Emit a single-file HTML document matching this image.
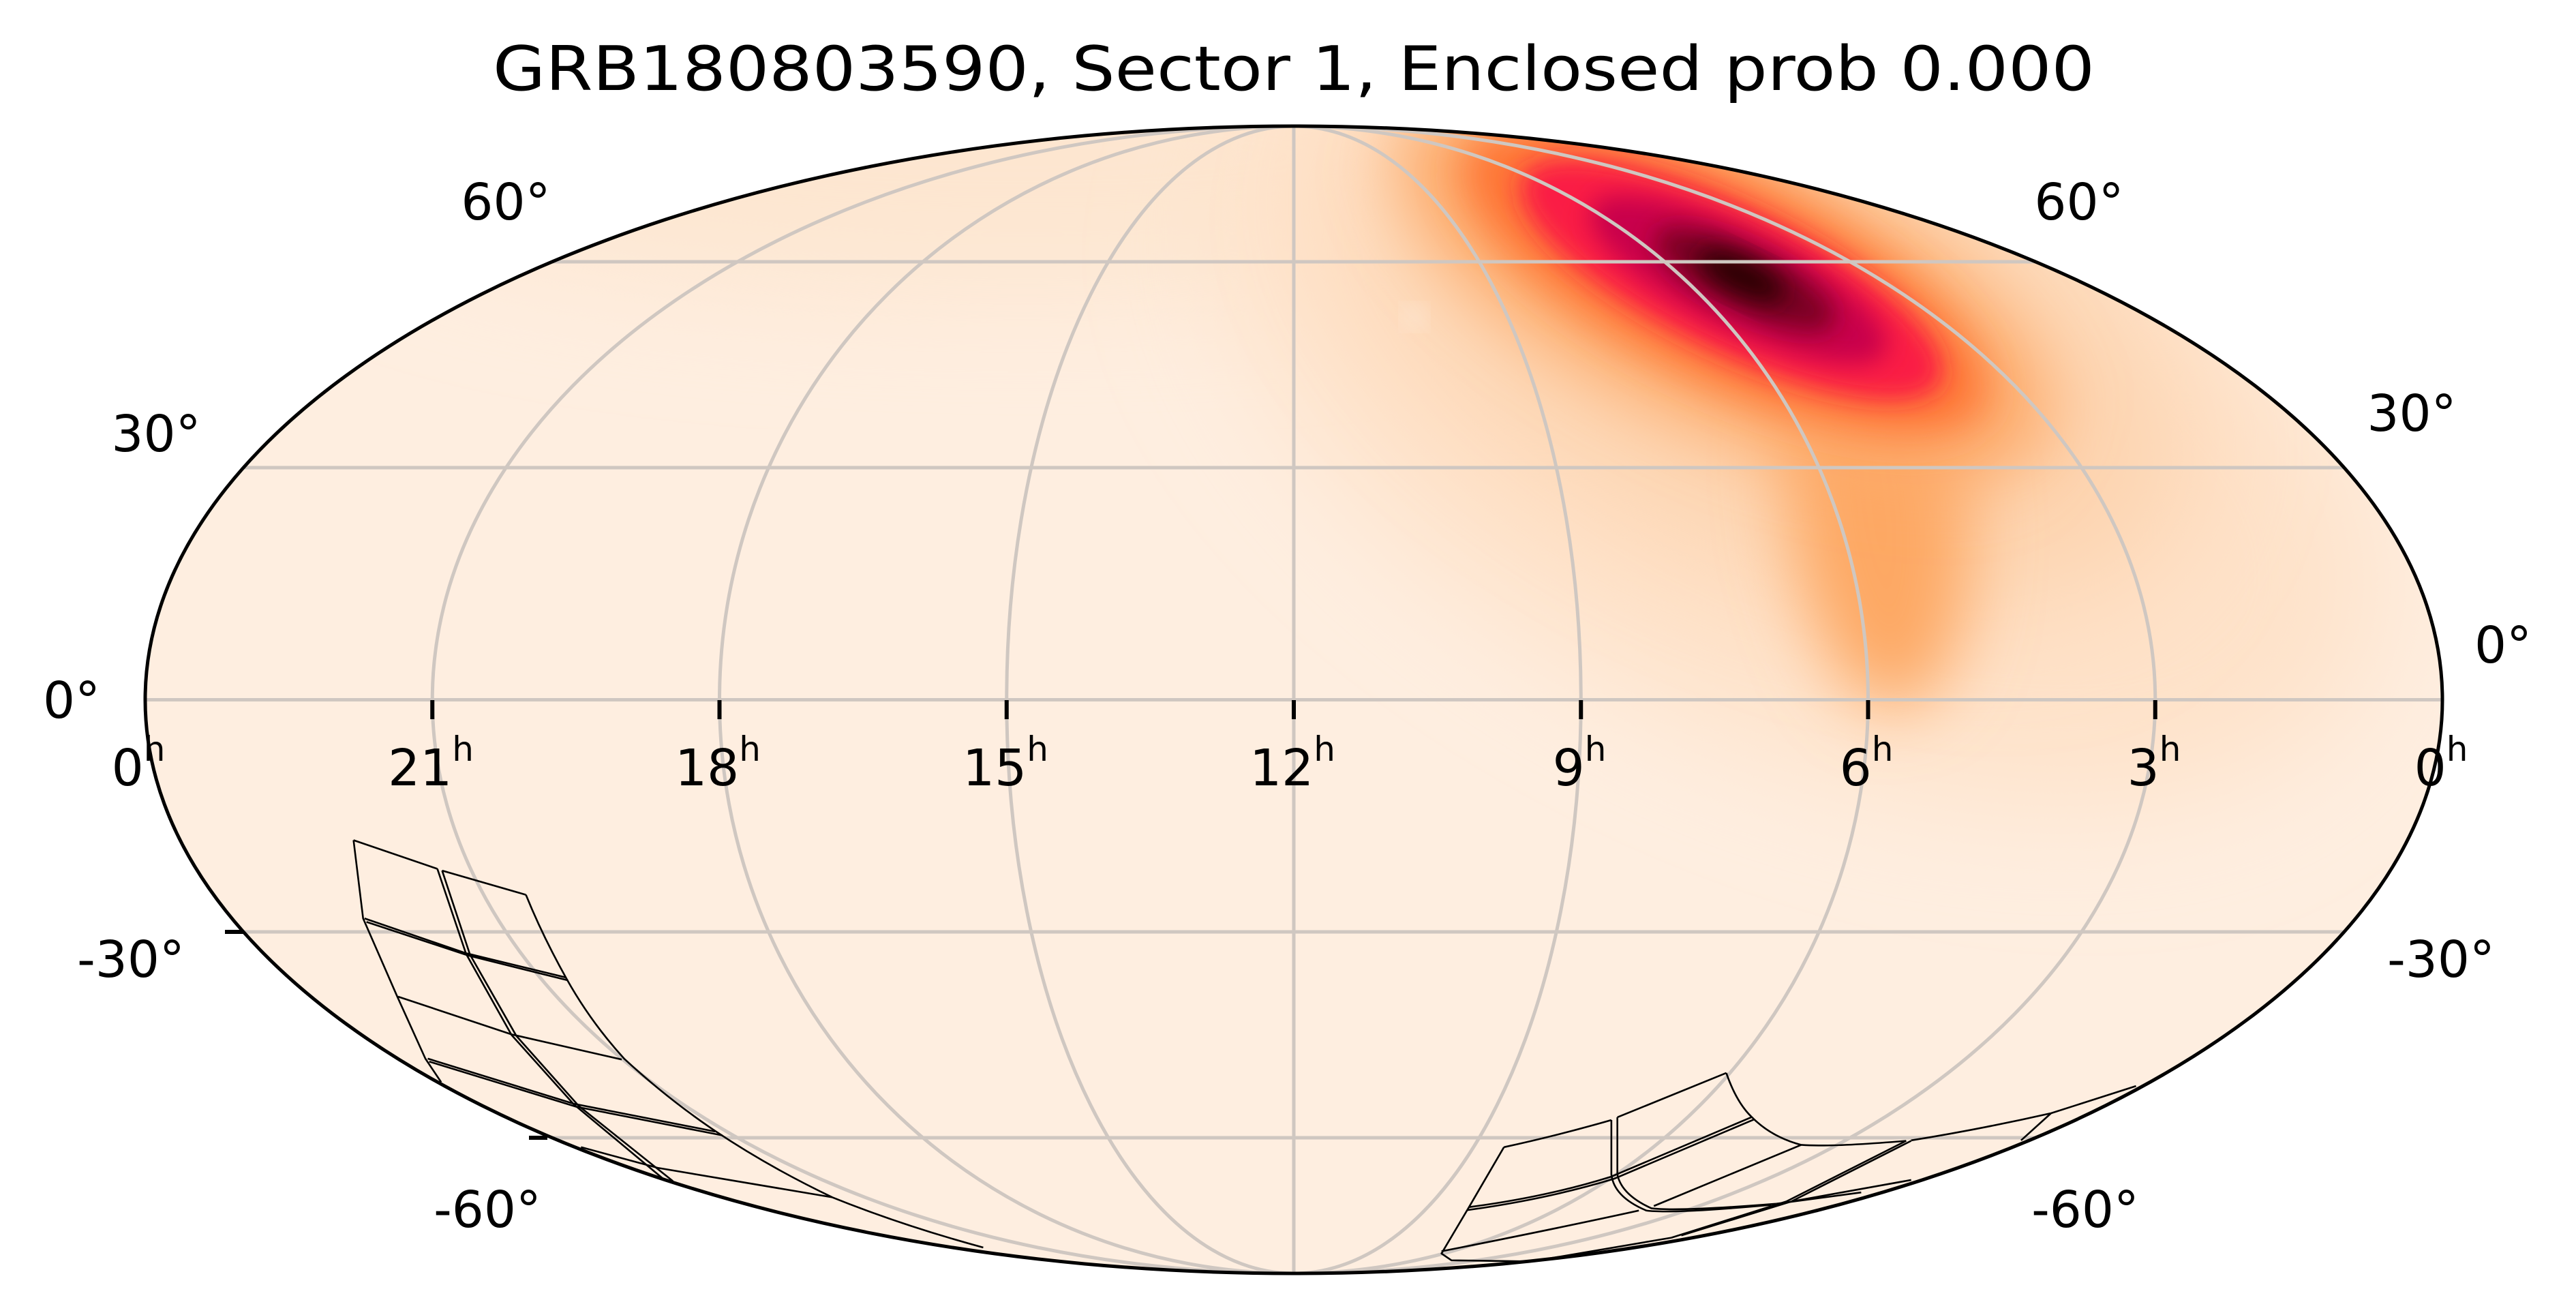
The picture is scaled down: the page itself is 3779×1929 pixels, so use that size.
<!DOCTYPE html>
<html><head><meta charset="utf-8"><style>
html,body{margin:0;padding:0;background:#fff;}
svg{display:block;}
text{font-family:"DejaVu Sans","Liberation Sans",sans-serif;fill:#000;}
</style></head><body>
<svg width="3779" height="1929" viewBox="0 0 3779 1929" xmlns="http://www.w3.org/2000/svg">
<defs>
<clipPath id="clip"><ellipse cx="1898" cy="1026.5" rx="1685" ry="841.5"/></clipPath>
<filter id="b1" x="-50%" y="-50%" width="200%" height="200%"><feGaussianBlur stdDeviation="90"/></filter>
<filter id="b2" x="-50%" y="-50%" width="200%" height="200%"><feGaussianBlur stdDeviation="50"/></filter>
<filter id="b3" x="-50%" y="-50%" width="200%" height="200%"><feGaussianBlur stdDeviation="30"/></filter>
<filter id="b4" x="-50%" y="-50%" width="200%" height="200%"><feGaussianBlur stdDeviation="18"/></filter>
</defs>
<text x="1898" y="132" font-size="90" text-anchor="middle" textLength="2350" lengthAdjust="spacingAndGlyphs">GRB180803590, Sector 1, Enclosed prob 0.000</text>
<g clip-path="url(#clip)">
<rect x="200" y="170" width="3400" height="1720" fill="#feeee0"/>
<ellipse cx="1500" cy="230" rx="1000" ry="200" fill="#fde6d0" filter="url(#b1)"/>
<ellipse cx="2650" cy="600" rx="900" ry="480" transform="rotate(25 2650 600)" fill="#fee2c9" filter="url(#b1)"/>
<ellipse cx="2600" cy="480" rx="650" ry="330" transform="rotate(25 2600 480)" fill="#fdd3ae" filter="url(#b1)"/>
<ellipse cx="2755" cy="740" rx="130" ry="300" transform="rotate(-6 2755 740)" fill="#fda864" filter="url(#b2)"/>
<ellipse cx="2530" cy="420" rx="520" ry="200" transform="rotate(25 2530 420)" fill="#fdaa6a" filter="url(#b2)"/>
<ellipse cx="2530" cy="410" rx="420" ry="145" transform="rotate(26 2530 410)" fill="#fe7434" filter="url(#b3)"/>
<ellipse cx="2540" cy="410" rx="340" ry="105" transform="rotate(26 2540 410)" fill="#fa1c44" filter="url(#b4)"/>
<ellipse cx="2550" cy="410" rx="240" ry="72" transform="rotate(26 2550 410)" fill="#c8004c" filter="url(#b4)"/>
<ellipse cx="2560" cy="410" rx="145" ry="46" transform="rotate(26 2560 410)" fill="#7a0024" filter="url(#b4)"/>
<ellipse cx="2555" cy="405" rx="70" ry="25" transform="rotate(26 2555 405)" fill="#250000" filter="url(#b4)"/>
<circle cx="2075" cy="465" r="12" fill="#fff3ea" filter="url(#b4)"/>
<g fill="none" stroke="#cfc7c1" stroke-width="5">
<line x1="1898" y1="185" x2="1898" y2="1868"/>
<ellipse cx="1898" cy="1026.5" rx="421.25" ry="841.5"/>
<ellipse cx="1898" cy="1026.5" rx="842.5" ry="841.5"/>
<ellipse cx="1898" cy="1026.5" rx="1263.75" ry="841.5"/>
<line x1="213" y1="1026.5" x2="3583" y2="1026.5"/>
<line x1="356" y1="686" x2="3440" y2="686"/>
<line x1="356" y1="1367" x2="3440" y2="1367"/>
<line x1="809" y1="384" x2="2987" y2="384"/>
<line x1="809" y1="1669" x2="2987" y2="1669"/>
</g>
<g fill="none" stroke="#000" stroke-width="2.6" stroke-linejoin="round">
<g transform="translate(480,1200) scale(0.7025,0.433)">
<path vector-effect="non-scaling-stroke" d="M55,75 L75,340 L145,600 L205,815 L238,895"/>
<path vector-effect="non-scaling-stroke" d="M55,75 L230,172 M240,178 L415,260"/>
<path vector-effect="non-scaling-stroke" d="M230,172 L290,460 L385,735 L515,970 L700,1220"/>
<path vector-effect="non-scaling-stroke" d="M240,178 L298,462 L395,738 L525,975 L722,1230"/>
<path vector-effect="non-scaling-stroke" d="M415,260 Q450,400 500,545 Q550,690 620,815 Q710,950 810,1060 Q920,1180 1055,1285 Q1200,1380 1370,1455"/>
<path vector-effect="non-scaling-stroke" d="M78,340 L290,458 L498,540 M82,352 L295,466 L503,550"/>
<path vector-effect="non-scaling-stroke" d="M148,605 L385,733 L615,818"/>
<path vector-effect="non-scaling-stroke" d="M210,815 L515,968 L810,1062 M213,825 L520,978 L825,1075"/>
<path vector-effect="non-scaling-stroke" d="M530,1115 L690,1185 L1055,1285"/>
</g>
<g transform="translate(2100,1550) scale(0.733,0.332)">
<path vector-effect="non-scaling-stroke" d="M145,400 L75,665 L20,870 L40,900 L200,905 L480,800"/>
<path vector-effect="non-scaling-stroke" d="M145,400 Q250,350 360,280 M372,268 L590,72"/>
<path vector-effect="non-scaling-stroke" d="M590,72 Q610,200 640,265 Q680,355 740,390 Q800,400 950,372"/>
<path vector-effect="non-scaling-stroke" d="M360,280 L360,520 Q365,620 430,680 Q480,695 680,655"/>
<path vector-effect="non-scaling-stroke" d="M372,268 L372,520 Q380,610 440,670 Q490,685 690,650"/>
<path vector-effect="non-scaling-stroke" d="M75,665 Q230,620 360,530 L640,268 M72,678 Q230,630 365,540 L645,278"/>
<path vector-effect="non-scaling-stroke" d="M20,860 Q250,760 415,680 M445,660 L740,390"/>
<path vector-effect="non-scaling-stroke" d="M950,372 L710,640 L480,800 M960,372 L720,640 L500,790"/>
<path vector-effect="non-scaling-stroke" d="M960,370 Q1100,320 1240,250 L1410,130 M1240,250 L1180,370"/>
<path vector-effect="non-scaling-stroke" d="M720,640 L960,545 M690,650 L860,600"/>
</g>
</g>
</g>
<ellipse cx="1898" cy="1026.5" rx="1685" ry="841.5" fill="none" stroke="#000" stroke-width="5"/>
<g stroke="#000" stroke-width="6">
<line x1="634.25" y1="1027" x2="634.25" y2="1055"/>
<line x1="1055.5" y1="1027" x2="1055.5" y2="1055"/>
<line x1="1476.75" y1="1027" x2="1476.75" y2="1055"/>
<line x1="1898" y1="1027" x2="1898" y2="1055"/>
<line x1="2319.25" y1="1027" x2="2319.25" y2="1055"/>
<line x1="2740.5" y1="1027" x2="2740.5" y2="1055"/>
<line x1="3161.75" y1="1027" x2="3161.75" y2="1055"/>
<line x1="330" y1="1367" x2="357" y2="1367"/>
<line x1="776" y1="1669" x2="803" y2="1669"/>
</g>
<g font-size="74">
<text x="742" y="322" text-anchor="middle">60°</text>
<text x="229" y="662" text-anchor="middle">30°</text>
<text x="105" y="1053" text-anchor="middle">0°</text>
<text x="192" y="1433" text-anchor="middle">-30°</text>
<text x="715" y="1800" text-anchor="middle">-60°</text>
<text x="3050" y="322" text-anchor="middle">60°</text>
<text x="3538" y="632" text-anchor="middle">30°</text>
<text x="3672" y="972" text-anchor="middle">0°</text>
<text x="3581" y="1433" text-anchor="middle">-30°</text>
<text x="3059" y="1800" text-anchor="middle">-60°</text>
</g>
<g font-size="74">
<text x="203" y="1152" text-anchor="middle">0<tspan font-size="50" dy="-36">h</tspan></text>
<text x="632" y="1152" text-anchor="middle">21<tspan font-size="50" dy="-36">h</tspan></text>
<text x="1053" y="1152" text-anchor="middle">18<tspan font-size="50" dy="-36">h</tspan></text>
<text x="1475" y="1152" text-anchor="middle">15<tspan font-size="50" dy="-36">h</tspan></text>
<text x="1896" y="1152" text-anchor="middle">12<tspan font-size="50" dy="-36">h</tspan></text>
<text x="2317" y="1152" text-anchor="middle">9<tspan font-size="50" dy="-36">h</tspan></text>
<text x="2738" y="1152" text-anchor="middle">6<tspan font-size="50" dy="-36">h</tspan></text>
<text x="3160" y="1152" text-anchor="middle">3<tspan font-size="50" dy="-36">h</tspan></text>
<text x="3581" y="1152" text-anchor="middle">0<tspan font-size="50" dy="-36">h</tspan></text>
</g>
</svg>
</body></html>
